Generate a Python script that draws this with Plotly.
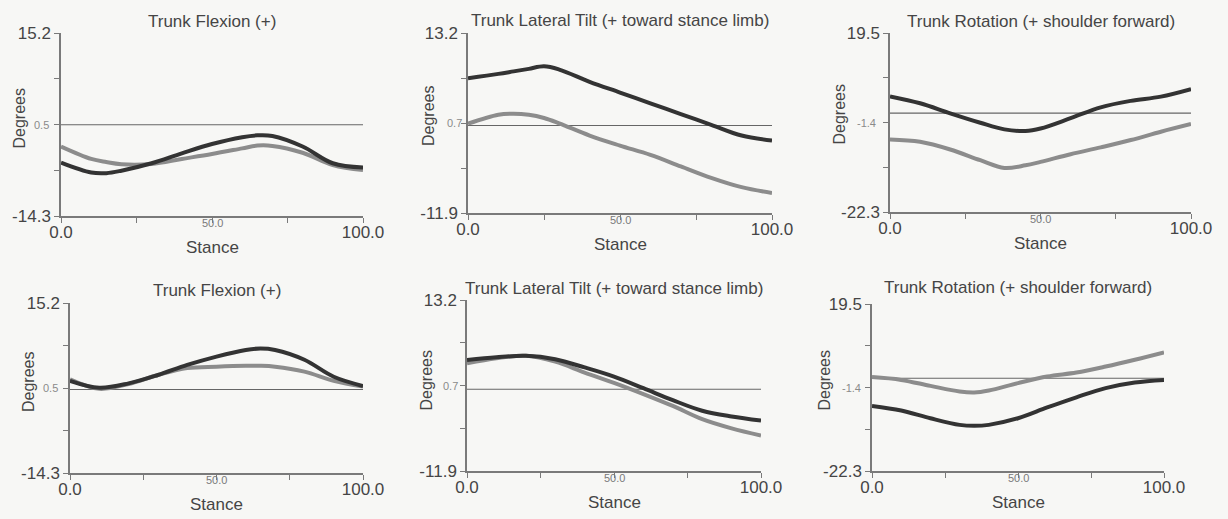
import plotly.graph_objects as go

W, H = 1228, 519

# ---------------- data ----------------
titles = [
    "Trunk Flexion (+)",
    "Trunk Lateral Tilt (+ toward stance limb)",
    "Trunk Rotation (+ shoulder forward)",
    "Trunk Flexion (+)",
    "Trunk Lateral Tilt (+ toward stance limb)",
    "Trunk Rotation (+ shoulder forward)",
]
y_min = [-14.3, -11.9, -22.3, -14.3, -11.9, -22.3]
y_max = [15.2, 13.2, 19.5, 15.2, 13.2, 19.5]
y_lo_label = ["-14.3", "-11.9", "-22.3", "-14.3", "-11.9", "-22.3"]
y_mid_label = ["0.5", "0.7", "-1.4", "0.5", "0.7", "-1.4"]
y_hi_label = ["15.2", "13.2", "19.5", "15.2", "13.2", "19.5"]
x_tick_labels = ["0.0", "50.0", "100.0"]
ref_line = [0.4, 0.3, 0.8, 0.2, 0.1, 0.9]

flex_a_x = [0, 10, 15, 20, 30, 40, 50, 60, 65, 70, 80, 90, 100]
flex_a_dark = [-5.7, -7.3, -7.4, -7.0, -5.8, -4.2, -2.7, -1.6, -1.3, -1.4, -3.1, -5.8, -6.5]
flex_a_gray = [-3.1, -5.1, -5.6, -5.95, -5.9, -5.1, -4.3, -3.4, -2.95, -3.0, -4.1, -6.1, -6.9]

tilt_a_x = [0, 10, 15, 20, 25, 30, 40, 50, 60, 70, 80, 90, 100]
tilt_a_dark = [6.9, 7.5, 7.85, 8.2, 8.55, 8.1, 6.4, 4.9, 3.4, 1.9, 0.4, -1.1, -1.8]
tilt_a_gray = [0.55, 1.8, 1.95, 1.8, 1.35, 0.6, -1.1, -2.5, -3.8, -5.4, -7.0, -8.3, -9.1]

rot_a_x = [0, 10, 20, 30, 38, 45, 50, 60, 70, 80, 90, 100]
rot_a_dark = [4.7, 3.1, 0.75, -1.45, -3.0, -3.4, -2.8, -0.4, 2.15, 3.65, 4.65, 6.4]
rot_a_gray = [-5.35, -5.9, -7.7, -10.2, -12.0, -11.4, -10.6, -8.8, -7.2, -5.5, -3.55, -1.75]

flex_b_x = [0, 10, 20, 30, 40, 50, 60, 65, 70, 80, 90, 100]
flex_b_dark = [1.7, 0.5, 1.25, 2.7, 4.45, 5.9, 7.05, 7.3, 7.05, 5.35, 2.4, 0.8]
flex_b_gray = [1.95, 0.3, 1.15, 2.7, 3.9, 4.15, 4.3, 4.3, 4.15, 3.3, 1.7, 0.7]

tilt_b_x = [0, 10, 20, 30, 40, 50, 60, 70, 80, 90, 100]
tilt_b_dark = [4.4, 4.8, 5.0, 4.5, 3.3, 1.95, 0.25, -1.5, -3.05, -3.9, -4.5]
tilt_b_gray = [3.9, 4.65, 5.0, 4.15, 2.55, 1.05, -0.6, -2.35, -4.3, -5.65, -6.7]

rot_b_x = [0, 10, 20, 30, 35, 40, 50, 60, 70, 80, 90, 100]
rot_b_dark = [-6.0, -7.15, -9.1, -10.75, -11.0, -10.75, -9.1, -6.4, -3.85, -1.55, -0.15, 0.5]
rot_b_gray = [1.2, 0.5, -1.0, -2.4, -2.65, -2.15, -0.3, 1.35, 2.35, 3.85, 5.55, 7.4]

series_x = [flex_a_x, tilt_a_x, rot_a_x, flex_b_x, tilt_b_x, rot_b_x]
series_dark = [flex_a_dark, tilt_a_dark, rot_a_dark, flex_b_dark, tilt_b_dark, rot_b_dark]
series_gray = [flex_a_gray, tilt_a_gray, rot_a_gray, flex_b_gray, tilt_b_gray, rot_b_gray]

# ---------------- layout geometry (pixels) ----------------
boxes = [  # left, right, top, bottom
    (61, 363, 33, 216),
    (468, 772, 33, 213),
    (890, 1191, 33, 212),
    (70, 363, 303, 473),
    (467, 761, 300, 471),
    (872, 1164, 304, 471),
]
title_shift = [12, 13, 12, 13, 11.5, 16.5]
deg_xshift = [-42, -40, -51, -42, -41, -48]
deg_yshift = [6, 7, 8, 6, 5, 7]
mid_xshift = [-10, -4, -12, -10, -7, -9]

FONT = "Liberation Sans, Arial, sans-serif"
TXT = "#454545"
AX = "#7a7a7a"
BG = "#f7f7f5"

fig = go.Figure()
layout = {}
annotations = []

for i in range(6):
    s = "" if i == 0 else str(i + 1)
    l, r, t, b = boxes[i]
    xa = "xaxis" + s
    ya = "yaxis" + s
    xr = "x" + s
    yr = "y" + s
    lo, hi = y_min[i], y_max[i]
    step = (hi - lo) / 4
    yticks = [lo + k * step for k in range(5)]
    mid = yticks[2]

    layout[xa] = dict(
        domain=[l / W, r / W], anchor=yr, range=[0, 100], automargin=False,
        showgrid=False, zeroline=False, showline=True, linecolor=AX, linewidth=1.5,
        ticks="outside", ticklen=5, tickwidth=1.2, tickcolor=AX,
        ticklabelstandoff=-5,
        tickvals=[0, 25, 50, 75, 100],
        ticktext=[x_tick_labels[0], "", "", "", x_tick_labels[2]],
        tickfont=dict(family=FONT, size=17, color=TXT), fixedrange=True,
    )
    layout[ya] = dict(
        domain=[1 - b / H, 1 - t / H], anchor=xr, range=[lo, hi], automargin=False,
        showgrid=False, zeroline=False, showline=True, linecolor=AX, linewidth=1.5,
        ticks="outside", ticklen=5, tickwidth=1.2, tickcolor=AX,
        tickvals=yticks,
        ticktext=[y_lo_label[i], "", "", "", y_hi_label[i]],
        tickfont=dict(family=FONT, size=17, color=TXT), fixedrange=True,
    )

    # reference horizontal line
    fig.add_trace(go.Scatter(
        x=[0, 100], y=[ref_line[i], ref_line[i]], mode="lines",
        line=dict(color="#666666", width=1.1), xaxis=xr, yaxis=yr,
        showlegend=False, hoverinfo="skip"))
    fig.add_trace(go.Scatter(
        x=series_x[i], y=series_gray[i], mode="lines",
        line=dict(color="#8c8c8c", width=4, shape="spline", smoothing=1.0),
        xaxis=xr, yaxis=yr, showlegend=False))
    fig.add_trace(go.Scatter(
        x=series_x[i], y=series_dark[i], mode="lines",
        line=dict(color="#333333", width=4, shape="spline", smoothing=1.0),
        xaxis=xr, yaxis=yr, showlegend=False))

    # title
    annotations.append(dict(
        text=titles[i], xref=xr + " domain", yref=yr + " domain", x=0.5, y=1,
        xanchor="center", yanchor="middle", yshift=title_shift[i], showarrow=False,
        font=dict(family=FONT, size=17, color=TXT)))
    # Stance
    annotations.append(dict(
        text="Stance", xref=xr + " domain", yref=yr + " domain", x=0.5, y=0,
        xanchor="center", yanchor="middle", yshift=-31, showarrow=False,
        font=dict(family=FONT, size=17, color=TXT)))
    # Degrees
    annotations.append(dict(
        text="Degrees", xref=xr + " domain", yref=yr + " domain", x=0, y=0.5,
        xanchor="center", yanchor="middle", xshift=deg_xshift[i], yshift=deg_yshift[i],
        textangle=-90, showarrow=False,
        font=dict(family=FONT, size=16, color=TXT)))
    # small middle y label
    annotations.append(dict(
        text=y_mid_label[i], xref=xr + " domain", yref=yr, x=0, y=mid,
        xanchor="right", yanchor="middle", xshift=mid_xshift[i], showarrow=False,
        font=dict(family=FONT, size=11, color="#8a8a8a")))
    # small middle x label
    annotations.append(dict(
        text=x_tick_labels[1], xref=xr, yref=yr + " domain", x=50, y=0,
        xanchor="center", yanchor="middle", yshift=-7, showarrow=False,
        font=dict(family=FONT, size=11, color="#7a7a7a")))

fig.update_layout(
    template="none",
    width=W, height=H, margin=dict(l=0, r=0, t=0, b=0, pad=0, autoexpand=False),
    paper_bgcolor=BG, plot_bgcolor=BG, showlegend=False,
    font=dict(family=FONT, color=TXT),
    annotations=annotations, **layout)

fig.write_html("out.html")
